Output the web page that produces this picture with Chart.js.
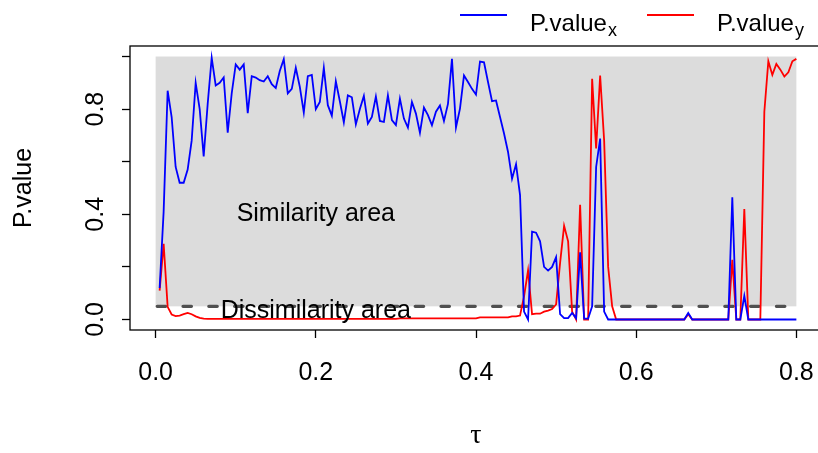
<!DOCTYPE html>
<html>
<head>
<meta charset="utf-8">
<script src="https://cdn.jsdelivr.net/npm/chart.js@4.4.1/dist/chart.umd.min.js"></script>
<style>
  html, body { margin: 0; padding: 0; background: #fff; overflow: hidden; }
  #wrap { position: absolute; left: 0; top: 0; width: 830px; height: 453px; }
</style>
</head>
<body>
<div id="wrap"><canvas id="pvalChart" width="830" height="453"></canvas></div>
<script>
// tau grid and the two p-value series
const tau = [
  0.005,0.010,0.015,0.020,0.025,0.030,0.035,0.040,0.045,0.050,
  0.055,0.060,0.065,0.070,0.075,0.080,0.085,0.090,0.095,0.100,
  0.105,0.110,0.115,0.120,0.125,0.130,0.135,0.140,0.145,0.150,
  0.155,0.160,0.165,0.170,0.175,0.180,0.185,0.190,0.195,0.200,
  0.205,0.210,0.215,0.220,0.225,0.230,0.235,0.240,0.245,0.250,
  0.255,0.260,0.265,0.270,0.275,0.280,0.285,0.290,0.295,0.300,
  0.305,0.310,0.315,0.320,0.325,0.330,0.335,0.340,0.345,0.350,
  0.355,0.360,0.365,0.370,0.375,0.380,0.385,0.390,0.395,0.400,
  0.405,0.410,0.415,0.420,0.425,0.430,0.435,0.440,0.445,0.450,
  0.455,0.460,0.465,0.470,0.475,0.480,0.485,0.490,0.495,0.500,
  0.505,0.510,0.515,0.520,0.525,0.530,0.535,0.540,0.545,0.550,
  0.555,0.560,0.565,0.570,0.575,0.580,0.585,0.590,0.595,0.600,
  0.605,0.610,0.615,0.620,0.625,0.630,0.635,0.640,0.645,0.650,
  0.655,0.660,0.665,0.670,0.675,0.680,0.685,0.690,0.695,0.700,
  0.705,0.710,0.715,0.720,0.725,0.730,0.735,0.740,0.745,0.750,
  0.755,0.760,0.765,0.770,0.775,0.780,0.785,0.790,0.795,0.800
];

const pvalX = [
  0.12,0.41,0.87,0.77,0.58,0.52,0.52,0.57,0.68,0.90,
  0.80,0.62,0.82,0.995,0.89,0.90,0.92,0.71,0.86,0.97,
  0.95,0.97,0.785,0.925,0.92,0.91,0.905,0.925,0.895,0.88,
  0.945,0.99,0.86,0.877,0.957,0.885,0.787,0.925,0.93,0.80,
  0.827,0.957,0.815,0.775,0.906,0.83,0.75,0.852,0.845,0.742,
  0.80,0.85,0.745,0.77,0.848,0.755,0.751,0.852,0.758,0.739,
  0.84,0.764,0.73,0.827,0.783,0.71,0.806,0.777,0.739,0.79,
  0.814,0.755,0.82,0.991,0.73,0.802,0.928,0.903,0.877,0.855,
  0.981,0.978,0.903,0.83,0.833,0.77,0.707,0.637,0.535,0.59,
  0.473,0.03,0.0,0.334,0.33,0.297,0.20,0.186,0.20,0.237,
  0.02,0.005,0.005,0.025,0.005,0.255,0.003,0.003,0.05,0.58,
  0.688,0.03,0,0,0,0,0,0,0,0,
  0,0,0,0,0,0,0,0,0,0,
  0,0,0.025,0,0,0,0,0,0,0,
  0,0,0,0.465,0,0,0.09,0,0,0,
  0,0,0,0,0,0,0,0,0,0
];

const pvalY = [
  0.11,0.288,0.048,0.019,0.013,0.015,0.02,0.025,0.02,0.012,
  0.006,0.003,0.002,0.002,0.002,0.002,0.002,0.002,0.002,0.002,
  0.002,0.002,0.002,0.002,0.002,0.002,0.002,0.002,0.002,0.002,
  0.002,0.002,0.002,0.002,0.002,0.002,0.002,0.002,0.002,0.002,
  0.002,0.002,0.002,0.002,0.002,0.002,0.002,0.002,0.002,0.002,
  0.002,0.002,0.002,0.002,0.002,0.002,0.002,0.002,0.002,0.002,
  0.004,0.004,0.004,0.004,0.004,0.004,0.004,0.004,0.004,0.004,
  0.004,0.004,0.004,0.004,0.004,0.004,0.004,0.004,0.004,0.004,
  0.008,0.008,0.008,0.008,0.008,0.008,0.008,0.008,0.012,0.012,
  0.015,0.088,0.187,0.02,0.022,0.022,0.03,0.034,0.04,0.057,
  0.215,0.356,0.297,0.03,0,0.436,0,0,0.915,0.65,
  0.928,0.68,0.2,0.05,0,0,0,0,0,0,
  0,0,0,0,0,0,0,0,0,0,
  0,0,0.02,0,0,0,0,0,0,0,
  0,0,0,0.227,0,0,0.42,0,0,0,
  0,0.79,0.982,0.93,0.972,0.95,0.924,0.94,0.982,0.991
];

const xTicks = [0, 0.2, 0.4, 0.6, 0.8];
const yTicks = [0, 0.2, 0.4, 0.6, 0.8, 1.0];
const yLabels = [0, 0.4, 0.8];
const cutoff = 0.05;

const SANS = '"Liberation Sans", Arial, sans-serif';

function toPoints(ys) {
  return tau.map((t, i) => ({ x: t, y: ys[i] }));
}

// grey zone, dashed cutoff, box, texts and legend
const decor = {
  id: 'decor',
  beforeDatasetsDraw(chart) {
    const { ctx, scales: { x, y } } = chart;
    ctx.save();
    ctx.fillStyle = '#DCDCDC';
    const x0 = x.getPixelForValue(0), x1 = x.getPixelForValue(0.8);
    const y0 = y.getPixelForValue(1), y1 = y.getPixelForValue(cutoff);
    ctx.fillRect(x0, y0, x1 - x0, y1 - y0);

    ctx.strokeStyle = '#505050';
    ctx.lineWidth = 3.3;
    ctx.lineCap = 'round';
    ctx.setLineDash([8.4, 17.4]);
    ctx.beginPath();
    ctx.moveTo(x0 + 1.6, y1);
    ctx.lineTo(x1, y1);
    ctx.stroke();
    ctx.restore();
  },
  afterDraw(chart) {
    const { ctx, chartArea: a, scales: { x, y } } = chart;
    ctx.save();
    // box
    ctx.strokeStyle = '#000';
    ctx.lineWidth = 1.3;
    ctx.strokeRect(a.left, a.top, a.right - a.left, a.bottom - a.top);

    // area labels
    ctx.fillStyle = '#000';
    ctx.font = '25px ' + SANS;
    ctx.textAlign = 'center';
    ctx.textBaseline = 'middle';
    ctx.fillText('Similarity area', x.getPixelForValue(0.2), y.getPixelForValue(0.4));
    ctx.fillText('Dissimilarity area', x.getPixelForValue(0.2), y.getPixelForValue(0.03));

    // y tick labels, parallel to the axis
    yLabels.forEach(v => {
      ctx.save();
      ctx.translate(96, y.getPixelForValue(v));
      ctx.rotate(-Math.PI / 2);
      ctx.fillText(v.toFixed(1), 0, 0);
      ctx.restore();
    });

    // axis titles
    ctx.save();
    ctx.translate(24, (a.top + a.bottom) / 2);
    ctx.rotate(-Math.PI / 2);
    ctx.fillText('P.value', 0, 0);
    ctx.restore();

    ctx.font = '28px "Liberation Serif", "DejaVu Serif", serif';
    ctx.textBaseline = 'alphabetic';
    ctx.fillText('\u03C4', x.getPixelForValue(0.4), 443);

    // legend
    const items = [
      { color: '#0000FF', sub: 'x', lx: 460 },
      { color: '#FF0000', sub: 'y', lx: 647 }
    ];
    ctx.textAlign = 'left';
    items.forEach(it => {
      ctx.strokeStyle = it.color;
      ctx.lineWidth = 1.8;
      ctx.beginPath();
      ctx.moveTo(it.lx, 15);
      ctx.lineTo(it.lx + 47, 15);
      ctx.stroke();
      ctx.fillStyle = '#000';
      ctx.font = '24px ' + SANS;
      const tx = it.lx + 70;
      ctx.fillText('P.value', tx, 31);
      const w = ctx.measureText('P.value').width;
      ctx.font = '18px ' + SANS;
      ctx.fillText(it.sub, tx + w + 1, 36);
    });
    ctx.restore();
  }
};

document.addEventListener('DOMContentLoaded', function() {
  const ctx = document.getElementById('pvalChart').getContext('2d');
  new Chart(ctx, {
    type: 'line',
    data: {
      datasets: [
        { label: 'P.value_x', data: toPoints(pvalX), borderColor: '#0000FF', borderWidth: 1.8, pointRadius: 0, tension: 0, fill: false },
        { label: 'P.value_y', data: toPoints(pvalY), borderColor: '#FF0000', borderWidth: 1.8, pointRadius: 0, tension: 0, fill: false }
      ]
    },
    options: {
      responsive: false,
      animation: false,
      events: [],
      layout: { padding: { left: 0, top: 46, right: 8, bottom: 0 } },
      plugins: { legend: { display: false }, tooltip: { enabled: false } },
      scales: {
        x: {
          type: 'linear', min: -0.032, max: 0.832,
          afterBuildTicks: s => { s.ticks = xTicks.map(v => ({ value: v })); },
          afterFit: s => { s.height = 123; s.paddingLeft = 0; s.paddingRight = 0; },
          border: { display: false },
          grid: { drawOnChartArea: false, drawTicks: true, tickLength: 8, tickColor: '#000', tickWidth: 1.3 },
          ticks: { color: '#000', font: { family: SANS, size: 25 }, padding: 20, maxRotation: 0, autoSkip: false,
                   callback: v => Number(v).toFixed(1) }
        },
        y: {
          type: 'linear', min: -0.04, max: 1.04,
          afterBuildTicks: s => { s.ticks = yTicks.map(v => ({ value: v })); },
          afterFit: s => { s.width = 130; s.paddingTop = 0; s.paddingBottom = 0; },
          border: { display: false },
          grid: { drawOnChartArea: false, drawTicks: true, tickLength: 8, tickColor: '#000', tickWidth: 1.3 },
          ticks: { display: false }
        }
      }
    },
    plugins: [decor]
  });
});
</script>
</body>
</html>
